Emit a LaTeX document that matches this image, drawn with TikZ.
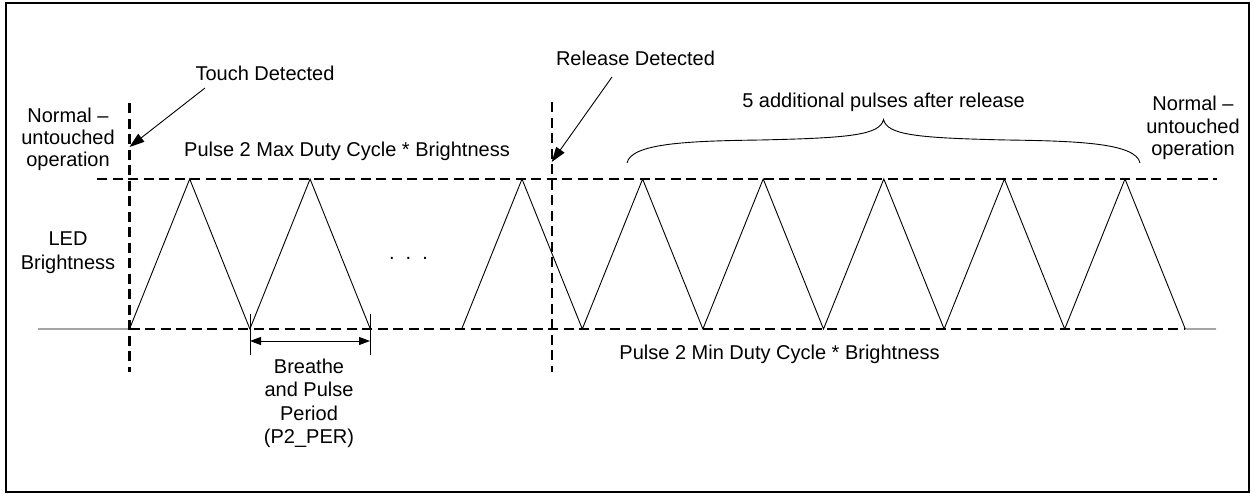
\documentclass[tikz,border=0pt]{standalone}
\usepackage{fontspec}
\setmainfont{Liberation Sans}
\usetikzlibrary{arrows.meta}

\begin{document}
\begin{tikzpicture}[x=1pt, y=-1pt,
        every node/.style={font=\fontsize{20}{23}\selectfont, inner sep=0pt},
        lvl/.style={dash pattern=on 10pt off 5.5pt, line width=2.2pt},
        wave/.style={line width=0.9pt},
        ptr/.style={line width=0.9pt, -{Triangle[length=15pt, width=10pt]}},
        span/.style={line width=0.9pt, {Triangle[length=11pt, width=8pt]}-{Triangle[length=11pt, width=8pt]}}]
    \useasboundingbox (0,0) rectangle (1252,495);
    \draw[line width=2.5pt] (6,3) rectangle (1249,492);

    % labels
    \node[anchor=base] (td) at (265,81) {Touch Detected};
    \node[anchor=base] (rd) at (635.5,66) {Release Detected};
    \node[anchor=base] (mx) at (347,156) {Pulse 2 Max Duty Cycle * Brightness};
    \node[anchor=base] (mn) at (779.5,359.5) {Pulse 2 Min Duty Cycle * Brightness};
    \node[anchor=base] (more) at (883.5,107) {5 additional pulses after release};
    \node[anchor=base] (dots) at (408.5,259.5) {.~~.~~.};
    % multi-line labels sit on their last line
    \node[anchor=base, align=center, font=\fontsize{20}{22}\selectfont] (nl) at (68,166) {Normal –\\untouched\\operation};
    \node[anchor=base, align=center, font=\fontsize{20}{22.5}\selectfont] (nr) at (1193,155.5) {Normal –\\untouched\\operation};
    \node[anchor=base, align=center, font=\fontsize{20}{24}\selectfont] (led) at (68,269) {LED\\Brightness};
    \node[anchor=base, align=center, font=\fontsize{20}{23.3}\selectfont] (per) at (309,443.3) {Breathe\\and Pulse\\Period\\(P2\_PER)};

    % levels and markers
    \draw[lvl] (97,179) -- (1217,179);
    \draw[lvl] (129.5,329) -- (1185.3,329);
    \draw[lvl] (129.5,103) -- (129.5,372);
    \draw[lvl] (551.7,102) -- (551.7,372);

    % waveform
    \draw[wave] (38,329) -- (129.5,329) -- (189.7,179) -- (249.9,329) -- (310.1,179) -- (370.3,329);
    \draw[wave] (461.7,329) -- (522,179) -- (582.3,329) -- (642.6,179) -- (702.9,329)
        -- (763.2,179) -- (823.5,329) -- (883.8,179) -- (944.1,329) -- (1004.4,179)
        -- (1064.7,329) -- (1125,179) -- (1185.3,329) -- (1216,329);

    % pointers
    \coordinate (tdtail) at (205,88);
    \coordinate (tdtip) at (129.5,147);
    \coordinate (rdtail) at (612,77);
    \coordinate (rdtip) at (551.7,162);
    \draw[ptr] (tdtail) -- (tdtip);
    \draw[ptr] (rdtail) -- (rdtip);

    % period
    \coordinate (p1) at (250,341);
    \coordinate (p2) at (370,341);
    \draw[wave] (250,314) -- (250,355);
    \draw[wave] (370,314) -- (370,355);
    \draw[span] (p1) -- (p2);

    % brace
    \draw[wave] (627,163) .. controls (631,143) and (690,141) .. (760,140)
        .. controls (850,138) and (880,135) .. (883.5,119.5)
        .. controls (887,135) and (917,138) .. (1007,140)
        .. controls (1077,141) and (1136,143) .. (1140,163);
\end{tikzpicture}
\end{document}
